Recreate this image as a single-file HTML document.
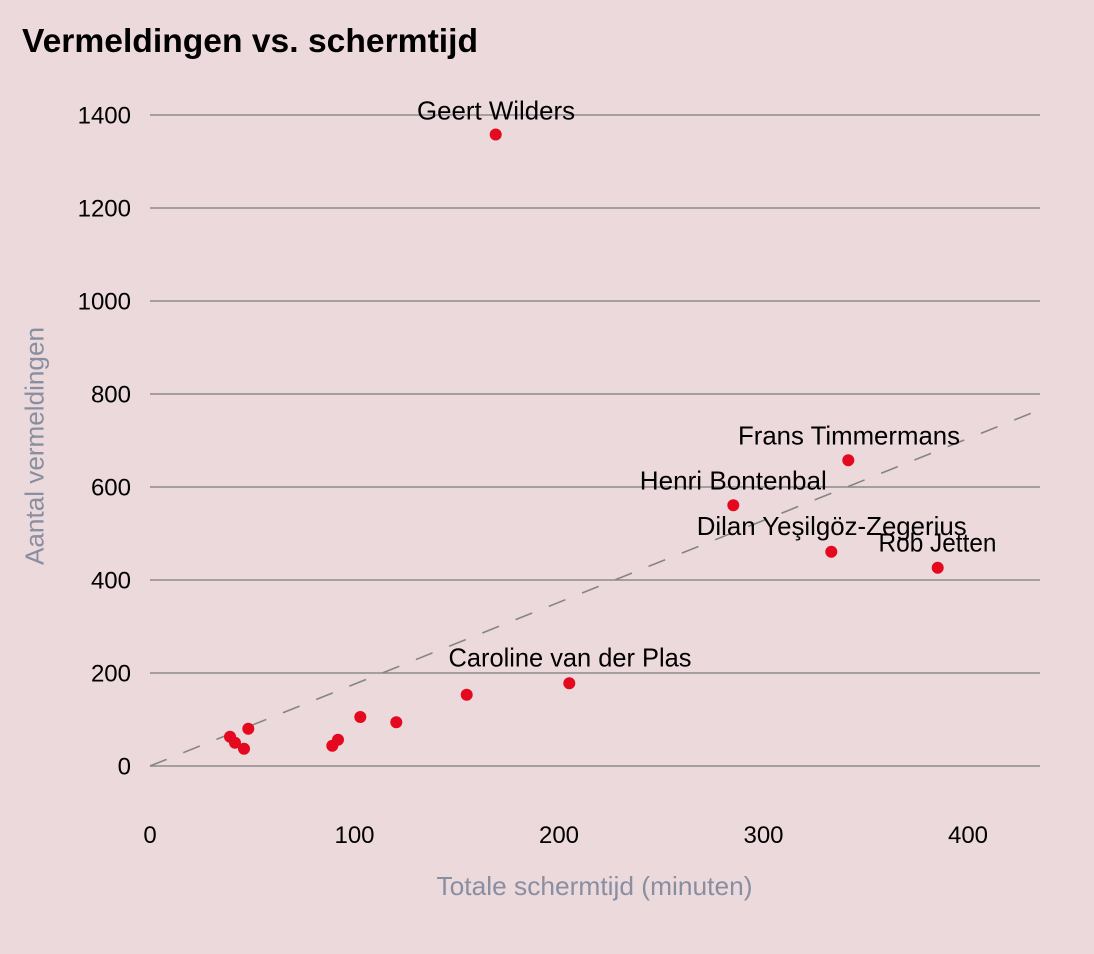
<!DOCTYPE html>
<html>
<head>
<meta charset="utf-8">
<style>
  html, body { margin: 0; padding: 0; }
  body { width: 1094px; height: 954px; background: #ecd9dc; overflow: hidden; }
  svg { display: block; }
  text { font-family: "Liberation Sans", "DejaVu Sans", sans-serif; }
</style>
</head>
<body>
<svg width="1094" height="954" viewBox="0 0 1094 954" xmlns="http://www.w3.org/2000/svg">
  <rect x="0" y="0" width="1094" height="954" fill="#ecd9dc"/>

  <!-- Title -->
  <text x="22" y="52" font-size="33" font-weight="bold" fill="#000" textLength="456" lengthAdjust="spacingAndGlyphs">Vermeldingen vs. schermtijd</text>

  <!-- Gridlines -->
  <g stroke="#8b8b8b" stroke-width="1.6">
    <line x1="150" y1="115" x2="1040" y2="115"/>
    <line x1="150" y1="208" x2="1040" y2="208"/>
    <line x1="150" y1="301" x2="1040" y2="301"/>
    <line x1="150" y1="394" x2="1040" y2="394"/>
    <line x1="150" y1="487" x2="1040" y2="487"/>
    <line x1="150" y1="580" x2="1040" y2="580"/>
    <line x1="150" y1="673" x2="1040" y2="673"/>
    <line x1="150" y1="766" x2="1040" y2="766"/>
  </g>

  <!-- Y tick labels -->
  <g font-size="24" fill="#000" text-anchor="end">
    <text x="131" y="123.5">1400</text>
    <text x="131" y="216.5">1200</text>
    <text x="131" y="309.5">1000</text>
    <text x="131" y="402.5">800</text>
    <text x="131" y="495.5">600</text>
    <text x="131" y="588.5">400</text>
    <text x="131" y="681.5">200</text>
    <text x="131" y="774.5">0</text>
  </g>

  <!-- X tick labels -->
  <g font-size="24" fill="#000" text-anchor="middle">
    <text x="150" y="843">0</text>
    <text x="354.5" y="843">100</text>
    <text x="559" y="843">200</text>
    <text x="763.5" y="843">300</text>
    <text x="968" y="843">400</text>
  </g>

  <!-- Axis titles -->
  <text x="594.5" y="895" font-size="26" fill="#898ea0" text-anchor="middle" textLength="316" lengthAdjust="spacingAndGlyphs">Totale schermtijd (minuten)</text>
  <text transform="translate(43.5,446) rotate(-90)" x="0" y="0" font-size="26" fill="#898ea0" text-anchor="middle" textLength="238" lengthAdjust="spacingAndGlyphs">Aantal vermeldingen</text>

  <!-- Dashed reference line -->
  <line x1="150" y1="766" x2="1040" y2="409.7" stroke="#858585" stroke-width="1.6" stroke-dasharray="17.9 17.9"/>

  <!-- Points -->
  <g fill="#e5091f">
    <circle cx="495.7" cy="134.5" r="6"/>
    <circle cx="848.3" cy="460.3" r="6"/>
    <circle cx="733.3" cy="505.3" r="6"/>
    <circle cx="831.3" cy="551.7" r="6"/>
    <circle cx="937.7" cy="567.7" r="6"/>
    <circle cx="569.3" cy="683.3" r="6"/>
    <circle cx="466.7" cy="694.7" r="6"/>
    <circle cx="396.3" cy="722.3" r="6"/>
    <circle cx="360.3" cy="717" r="6"/>
    <circle cx="338" cy="739.7" r="6"/>
    <circle cx="332.3" cy="745.7" r="6"/>
    <circle cx="248.3" cy="728.7" r="6"/>
    <circle cx="230" cy="736.7" r="6"/>
    <circle cx="235" cy="742.7" r="6"/>
    <circle cx="244" cy="748.7" r="6"/>
  </g>

  <!-- Point labels -->
  <g font-size="26" fill="#000" text-anchor="middle">
    <text x="496" y="119.3" textLength="158" lengthAdjust="spacingAndGlyphs">Geert Wilders</text>
    <text x="849" y="444.3" textLength="222" lengthAdjust="spacingAndGlyphs">Frans Timmermans</text>
    <text x="733.3" y="489.3" textLength="187" lengthAdjust="spacingAndGlyphs">Henri Bontenbal</text>
    <text x="831.7" y="535" textLength="270" lengthAdjust="spacingAndGlyphs">Dilan Yeşilgöz-Zegerius</text>
    <text x="937.5" y="551.7" textLength="118" lengthAdjust="spacingAndGlyphs">Rob Jetten</text>
    <text x="570" y="666.7" textLength="243" lengthAdjust="spacingAndGlyphs">Caroline van der Plas</text>
  </g>
</svg>
</body>
</html>
